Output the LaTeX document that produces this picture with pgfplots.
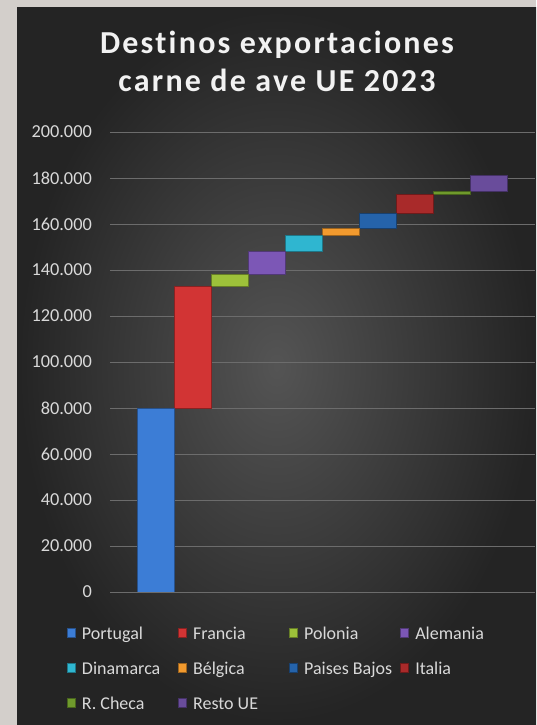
\documentclass[border=0pt]{standalone}
\usepackage{pgfplots}
\pgfplotsset{compat=1.18}
\usepackage{fontspec}
\setmainfont{Carlito}
\newfontfamily\titlefont[LetterSpace=7, Ligatures=NoCommon]{Carlito}

\definecolor{cPortugal}{HTML}{3C7DD6}
\definecolor{cFrancia}{HTML}{D23434}
\definecolor{cPolonia}{HTML}{9DC13A}
\definecolor{cAlemania}{HTML}{7C57B6}
\definecolor{cDinamarca}{HTML}{2FB6D0}
\definecolor{cBelgica}{HTML}{F29A2E}
\definecolor{cPaises}{HTML}{2563AA}
\definecolor{cItalia}{HTML}{A92A2A}
\definecolor{cCheca}{HTML}{6F9A2C}
\definecolor{cResto}{HTML}{694C9B}
\definecolor{gridc}{HTML}{6C6C6C}
\definecolor{labc}{HTML}{D9D9D9}
\definecolor{bgphoto}{HTML}{D3CFCB}

\newcommand{\lent}[1]{\hspace*{6.5pt}\makebox[96.3pt][l]{#1}}
\pgfplotsset{wf/.style={fill=#1, draw=#1!65!black, line width=0.8pt}}

\begin{document}
\begin{tikzpicture}
\useasboundingbox (0,0) rectangle (536pt,725pt);
\fill[bgphoto] (0,0) rectangle (536pt,725pt);
\shade[inner color=black!67, outer color=black!86] (17pt,0pt) rectangle (536pt,717pt);

\node[anchor=base, text=white!95!black, font=\titlefont\bfseries\fontsize{32}{36}\selectfont] at (277pt,671pt) {Destinos exportaciones};
\node[anchor=base, text=white!95!black, font=\titlefont\bfseries\fontsize{32}{36}\selectfont] at (277pt,633.3pt) {carne de ave UE 2023};

\begin{axis}[
  at={(110pt,133pt)}, anchor=south west,
  scale only axis, width=425pt, height=460pt,
  xmin=-1.25, xmax=10.25, ymin=0, ymax=200000,
  ybar stacked, bar width=1,
  axis line style={draw=none},
  xtick=\empty,
  ytick={0,20000,40000,60000,80000,100000,120000,140000,160000,180000,200000},
  yticklabels={0,20.000,40.000,60.000,80.000,100.000,120.000,140.000,160.000,180.000,200.000},
  major tick length=0pt,
  ymajorgrids, grid style={color=gridc, line width=0.9pt},
  scaled y ticks=false,
  yticklabel style={font=\fontsize{18.3}{20}\selectfont, text=labc, inner sep=0pt, xshift=-18pt},
  legend columns=4,
  legend style={draw=none, fill=none, at={(-0.1083,-0.0706)}, anchor=north west,
    column sep=0pt, row sep=19.3pt, font=\fontsize{18}{20}\selectfont, text=labc,
    nodes={inner sep=0pt, text height=12.5pt, text depth=3.5pt}},
  legend image code/.code={\fill[#1] (0pt,-2.5pt) rectangle (7.5pt,6.5pt);},
]
% waterfall: each series stacks on the running total
\addplot[wf=cPortugal] coordinates {(0,80000)};
\addlegendentry{\lent{Portugal}}
\addplot[wf=cFrancia] coordinates {(1,53000)};
\addlegendentry{\lent{Francia}}
\addplot[wf=cPolonia] coordinates {(2,5000)};
\addlegendentry{\lent{Polonia}}
\addplot[wf=cAlemania] coordinates {(3,10000)};
\addlegendentry{\lent{Alemania}}
\addplot[wf=cDinamarca] coordinates {(4,7000)};
\addlegendentry{\lent{Dinamarca}}
\addplot[wf=cBelgica] coordinates {(5,3000)};
\addlegendentry{\lent{Bélgica}}
\addplot[wf=cPaises] coordinates {(6,6500)};
\addlegendentry{\lent{Paises Bajos}}
\addplot[wf=cItalia] coordinates {(7,8500)};
\addlegendentry{\lent{Italia}}
\addplot[wf=cCheca] coordinates {(8,1000)};
\addlegendentry{\lent{R. Checa}}
\addplot[wf=cResto] coordinates {(9,7000)};
\addlegendentry{\lent{Resto UE}}
\end{axis}
\end{tikzpicture}
\end{document}
